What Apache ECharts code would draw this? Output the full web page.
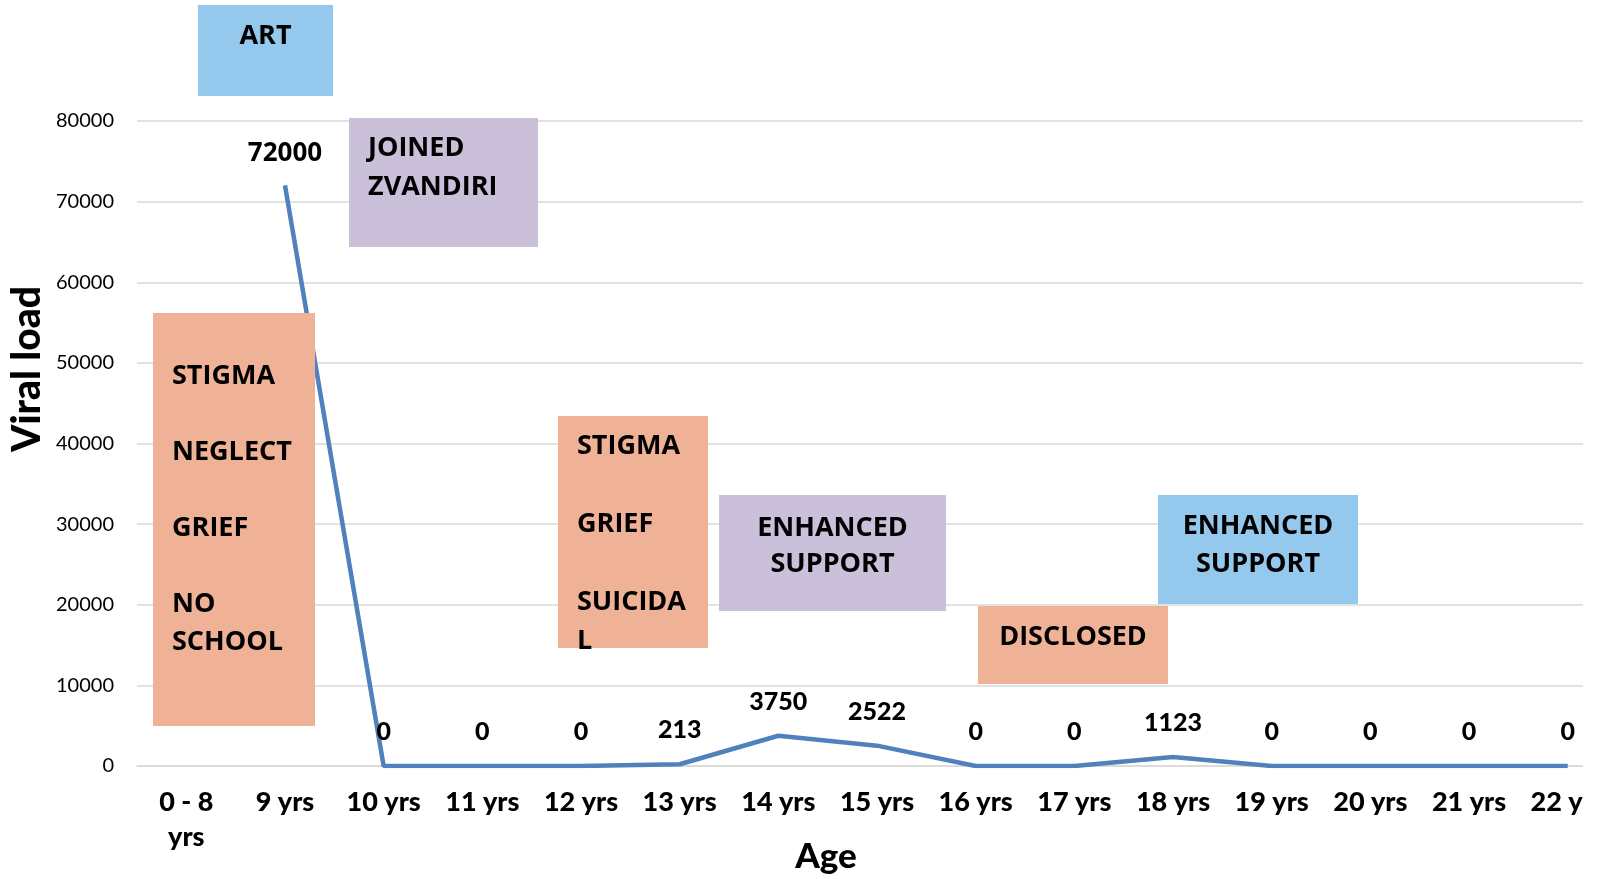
<!DOCTYPE html>
<html>
<head>
<meta charset="utf-8">
<title>Viral load by age</title>
<script src="https://cdn.jsdelivr.net/npm/echarts@6/dist/echarts.min.js"></script>
<style>
  html, body { margin: 0; padding: 0; background: #fff; }
  #chartLine1 { width: 1583px; height: 879px; }
</style>
</head>
<body>
<div id="chartLine1"></div>
<script>
(function(){

  'use strict'

  /************************ DATA *************************/
  var ages = ['0 - 8 yrs', '9 yrs', '10 yrs', '11 yrs', '12 yrs', '13 yrs', '14 yrs', '15 yrs',
              '16 yrs', '17 yrs', '18 yrs', '19 yrs', '20 yrs', '21 yrs', '22 yrs'];
  var viralLoad = [null, 72000, 0, 0, 0, 213, 3750, 2522, 0, 0, 1123, 0, 0, 0, 0];
  var yTicks = [0, 10000, 20000, 30000, 40000, 50000, 60000, 70000, 80000];

  // event boxes drawn over the plot
  var notes = [
    { text: 'ART', x: 198, y: 5, w: 135, h: 91, color: '#95C8ED', align: 'center', top: 17, lh: 38 },
    { text: 'JOINED\nZVANDIRI', x: 349, y: 118, w: 189, h: 129, color: '#CBC0DA', align: 'left', top: 129, lh: 39 },
    { text: 'STIGMA\n\nNEGLECT\n\nGRIEF\n\nNO\nSCHOOL', x: 153, y: 313, w: 162, h: 413, color: '#F0B296', align: 'left', top: 357, lh: 38 },
    { text: 'STIGMA\n\nGRIEF\n\nSUICIDA\nL', x: 558, y: 416, w: 150, h: 232, color: '#F0B296', align: 'left', top: 427, lh: 39 },
    { text: 'ENHANCED\nSUPPORT', x: 719, y: 495, w: 227, h: 116, color: '#CBC0DA', align: 'center', top: 510, lh: 36 },
    { text: 'DISCLOSED', x: 978, y: 606, w: 190, h: 78, color: '#F0B296', align: 'center', top: 618, lh: 38 },
    { text: 'ENHANCED\nSUPPORT', x: 1158, y: 495, w: 200, h: 109, color: '#95C8ED', align: 'center', top: 507, lh: 38 }
  ];

  var gridColor = '#D9D9D9';

  // the 9 yrs peak label is set in a different face in the original
  var seriesData = viralLoad.map(function(v, i) {
    if (i === 1) {
      return { value: v, label: { fontFamily: 'Open Sans', fontWeight: 'bold', fontSize: 26, distance: 18 } };
    }
    return v;
  });

  var graphics = [];
  notes.forEach(function(n) {
    graphics.push({
      type: 'rect',
      z: 10,
      shape: { x: n.x, y: n.y, width: n.w, height: n.h },
      style: { fill: n.color }
    });
    graphics.push({
      type: 'text',
      z: 11,
      x: n.align === 'center' ? n.x + n.w / 2 : n.x + 19,
      y: n.top,
      style: {
        text: n.text,
        fill: '#000',
        fontFamily: 'Open Sans',
        fontWeight: 'bold',
        fontSize: 27,
        lineHeight: n.lh,
        align: n.align,
        verticalAlign: 'top'
      }
    });
  });

  /************************ LINE CHART *************************/
  var chart = document.getElementById('chartLine1');
  var lineChart = echarts.init(chart);

  var option = {
    animation: false,
    grid: {
      left: 137,
      top: 121,
      width: 1480,
      height: 645,
      outerBoundsMode: 'none'
    },
    xAxis: {
      type: 'category',
      data: ages,
      boundaryGap: true,
      name: 'Age',
      nameLocation: 'middle',
      nameGap: 73,
      nameMoveOverlap: false,
      nameTextStyle: {
        fontFamily: 'Lato',
        fontWeight: 900,
        fontSize: 35,
        color: '#000',
        padding: [0, 102, 0, 0]
      },
      axisLine: {
        lineStyle: { color: gridColor, width: 1.5 }
      },
      axisTick: { show: false },
      axisLabel: {
        interval: 0,
        margin: 19,
        fontFamily: 'Lato',
        fontWeight: 900,
        fontSize: 27,
        lineHeight: 35,
        color: '#000',
        formatter: function(v) {
          return v.indexOf(' - ') > -1 ? v.replace(' yrs', '\nyrs') : v;
        }
      }
    },
    yAxis: {
      type: 'value',
      min: yTicks[0],
      max: yTicks[yTicks.length - 1],
      interval: yTicks[1] - yTicks[0],
      name: 'Viral load',
      nameLocation: 'middle',
      nameGap: 90,
      nameMoveOverlap: false,
      nameTextStyle: {
        fontFamily: 'Lato',
        fontWeight: 900,
        fontSize: 39,
        color: '#000',
        padding: [0, 0, 0, 149]
      },
      axisLine: { show: false },
      axisTick: { show: false },
      splitLine: {
        lineStyle: { color: gridColor, width: 1.5 }
      },
      axisLabel: {
        margin: 23,
        fontFamily: 'Lato',
        fontSize: 20,
        color: '#000',
        formatter: function(v) { return String(v); }
      }
    },
    series: [{
      name: 'Viral load',
      type: 'line',
      data: seriesData,
      symbol: 'circle',
      symbolSize: 1,
      showSymbol: true,
      connectNulls: false,
      lineStyle: { color: '#4F81BD', width: 4.5 },
      itemStyle: { color: '#4F81BD' },
      label: {
        show: true,
        position: 'top',
        distance: 21,
        fontFamily: 'Lato',
        fontWeight: 900,
        fontSize: 25,
        color: '#000'
      }
    }],
    graphic: graphics
  };

  lineChart.setOption(option);

})();
</script>
</body>
</html>
